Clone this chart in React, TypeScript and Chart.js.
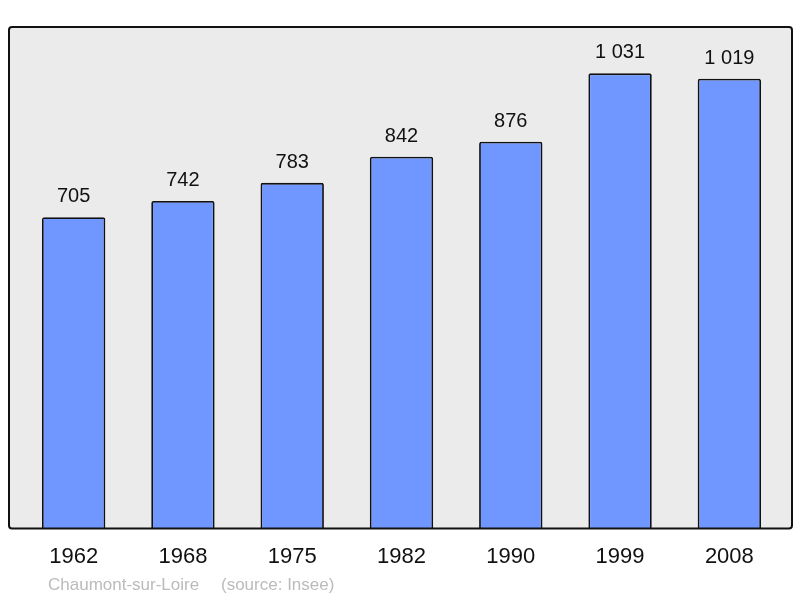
import { useEffect, useRef } from "react";
import { Chart, registerables, type Plugin } from "chart.js";

Chart.register(...registerables);

const years = ["1962", "1968", "1975", "1982", "1990", "1999", "2008"];
const population = [705, 742, 783, 842, 876, 1031, 1019];
const placeName = "Chaumont-sur-Loire";
const sourceNote = "(source: Insee)";

const FONT = '"Liberation Sans", Arial, sans-serif';

const fmt = (v: number) => String(v).replace(/\B(?=(\d{3})+(?!\d))/g, " ");

// frame around the plot, drawn a bit wider than the chart area
const framePlugin: Plugin<"bar"> = {
  id: "frame",
  beforeDatasetsDraw(chart) {
    const { ctx, chartArea } = chart;
    const x = chartArea.left - 10;
    const w = chartArea.right + 8 - x;
    const y = chartArea.top;
    const h = chartArea.bottom - y;
    ctx.save();
    ctx.fillStyle = "#ebebeb";
    ctx.beginPath();
    ctx.roundRect(x, y, w, h, 3);
    ctx.fill();
    ctx.restore();
  },
  afterDatasetsDraw(chart) {
    const { ctx, chartArea } = chart;
    const x = chartArea.left - 10;
    const w = chartArea.right + 8 - x;
    const y = chartArea.top;
    const h = chartArea.bottom - y;
    ctx.save();
    ctx.strokeStyle = "#111";
    ctx.lineWidth = 2;
    ctx.beginPath();
    ctx.roundRect(x, y, w, h, 3);
    ctx.stroke();

    // value labels
    ctx.fillStyle = "#111";
    ctx.font = `20px ${FONT}`;
    ctx.textAlign = "center";
    ctx.textBaseline = "alphabetic";
    const meta = chart.getDatasetMeta(0);
    meta.data.forEach((bar, i) => {
      ctx.fillText(fmt(population[i]), bar.x, bar.y - 15);
    });

    // footer
    ctx.fillStyle = "#bbbbbb";
    ctx.font = `17px ${FONT}`;
    ctx.textAlign = "left";
    ctx.fillText(placeName, 48, 590);
    ctx.fillText(sourceNote, 221, 590);
    ctx.restore();
  },
};

export default function App() {
  const canvasRef = useRef<HTMLCanvasElement | null>(null);

  useEffect(() => {
    const canvas = canvasRef.current;
    if (!canvas) return;

    const chart = new Chart(canvas, {
      type: "bar",
      data: {
        labels: years,
        datasets: [
          {
            data: population,
            backgroundColor: "#7096ff",
            borderColor: "#111",
            borderWidth: 1.8,
            borderRadius: 2,
            borderSkipped: "bottom",
            barPercentage: 0.58,
            categoryPercentage: 1,
          },
        ],
      },
      options: {
        animation: false,
        responsive: false,
        maintainAspectRatio: false,
        layout: { padding: { top: 27, left: 19, right: 16, bottom: 21 } },
        plugins: { legend: { display: false }, tooltip: { enabled: false } },
        scales: {
          x: {
            grid: { display: false },
            border: { display: false },
            ticks: {
              color: "#111",
              font: { family: FONT, size: 22 },
              padding: 7,
              maxRotation: 0,
            },
          },
          y: {
            display: false,
            min: 0,
            max: 1136,
          },
        },
      },
      plugins: [framePlugin],
    });

    return () => chart.destroy();
  }, []);

  return (
    <div style={{ position: "absolute", left: 0, top: 0, width: 800, height: 598, background: "#fff" }}>
      <canvas ref={canvasRef} width={800} height={598} />
    </div>
  );
}
